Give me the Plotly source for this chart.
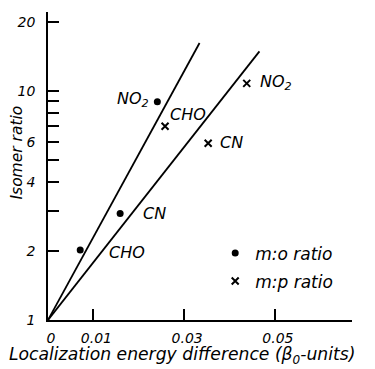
import math
import plotly.graph_objects as go

# m:o ratio (dots)
mo_x = [0.0071, 0.0159, 0.0241]
mo_y = [2.02, 2.92, 8.98]
mo_labels = ["CHO", "CN", "NO<sub>2</sub>"]

# m:p ratio (crosses)
mp_x = [0.0258, 0.0353, 0.0438]
mp_y = [7.01, 5.91, 10.8]
mp_labels = ["CHO", "CN", "NO<sub>2</sub>"]

# fitted lines through origin (log scale)
line1_x = [0.0, 0.0334]
line1_y = [1.0, 16.2]
line2_x = [0.0, 0.0466]
line2_y = [1.0, 14.9]

y_tickvals = [1, 2, 3, 4, 5, 6, 7, 8, 9, 10, 20]
y_ticktext = ["1", "2", "", "4", "", "6", "", "", "", "10", "20"]
x_tickvals = [0, 0.01, 0.03, 0.05]
x_ticktext = ["0", "0.01", "0.03", "0.05"]

FONT = "DejaVu Sans"
font_it = dict(family=FONT, size=14, color="black", style="italic")

fig = go.Figure()
fig.add_trace(go.Scatter(x=line1_x, y=line1_y, mode="lines",
                         line=dict(color="black", width=1.8), showlegend=False, hoverinfo="skip"))
fig.add_trace(go.Scatter(x=line2_x, y=line2_y, mode="lines",
                         line=dict(color="black", width=1.8), showlegend=False, hoverinfo="skip"))
fig.add_trace(go.Scatter(x=mo_x, y=mo_y, mode="markers", name="m:o ratio", legendgroup="a",
                         marker=dict(symbol="circle", size=7, color="black")))
fig.add_trace(go.Scatter(x=mp_x, y=mp_y, mode="markers", name="m:p ratio", legendgroup="b",
                         marker=dict(symbol="x-thin", size=7, color="black",
                                     line=dict(width=2, color="black"))))

# point labels
mo_offsets = [(27, -2, "left"), (21, 0, "left"), (-6, 2, "right")]
mp_offsets = [(3, 12, "left"), (10, 1, "left"), (11, 1, "left")]
for xs, ys, labs, offs in [(mo_x, mo_y, mo_labels, mo_offsets), (mp_x, mp_y, mp_labels, mp_offsets)]:
    for x, y, t, (dx, dy, anc) in zip(xs, ys, labs, offs):
        fig.add_annotation(x=x, y=math.log10(y), yref="y", xref="x", text=t, showarrow=False,
                           xanchor=anc, yanchor="middle", xshift=dx, yshift=dy,
                           font=dict(family=FONT, size=16, color="black", style="italic"))

# axis titles
fig.add_annotation(x=-0.1036, y=0.5, xref="paper", yref="paper", text="Isomer ratio",
                   textangle=-90, showarrow=False, xanchor="center", yanchor="middle",
                   yshift=13, font=dict(family=FONT, size=15.5, color="black", style="italic"))
fig.add_annotation(x=0.5, y=0, xref="paper", yref="paper",
                   text="Localization energy difference (β<sub>0</sub>-units)",
                   showarrow=False, xanchor="center", yanchor="top", xshift=-18, yshift=-22,
                   font=dict(family=FONT, size=17.2, color="black", style="italic"))

fig.update_xaxes(range=[0, 0.067], showline=True, linecolor="black", linewidth=1.5,
                 ticks="inside", ticklen=11, tickwidth=1.5, tickcolor="black",
                 tickvals=x_tickvals, ticktext=x_ticktext, tickfont=font_it,
                 showgrid=False, zeroline=False, automargin=False,
                 ticklabelstandoff=4, ticklabelshift=3)
fig.update_yaxes(type="log", range=[0, 1.345], showline=True, linecolor="black", linewidth=1.5,
                 ticks="inside", ticklen=11, tickwidth=1.5, tickcolor="black",
                 tickvals=y_tickvals, ticktext=y_ticktext, tickfont=font_it,
                 showgrid=False, zeroline=False, ticklabelstandoff=8, automargin=False)

# the page body has an 8px margin, so the figure is sized/offset to compensate
fig.update_layout(width=367, height=361,
                  margin=dict(l=40, r=23, t=4, b=49, autoexpand=False),
                  plot_bgcolor="white", paper_bgcolor="white",
                  showlegend=True,
                  legend=dict(x=0.55, y=0.171, xanchor="left", yanchor="middle",
                              bgcolor="rgba(0,0,0,0)", itemwidth=30,
                              tracegroupgap=3, traceorder="grouped",
                              font=dict(family=FONT, size=17, color="black", style="italic")))

fig.write_html("out.html")
